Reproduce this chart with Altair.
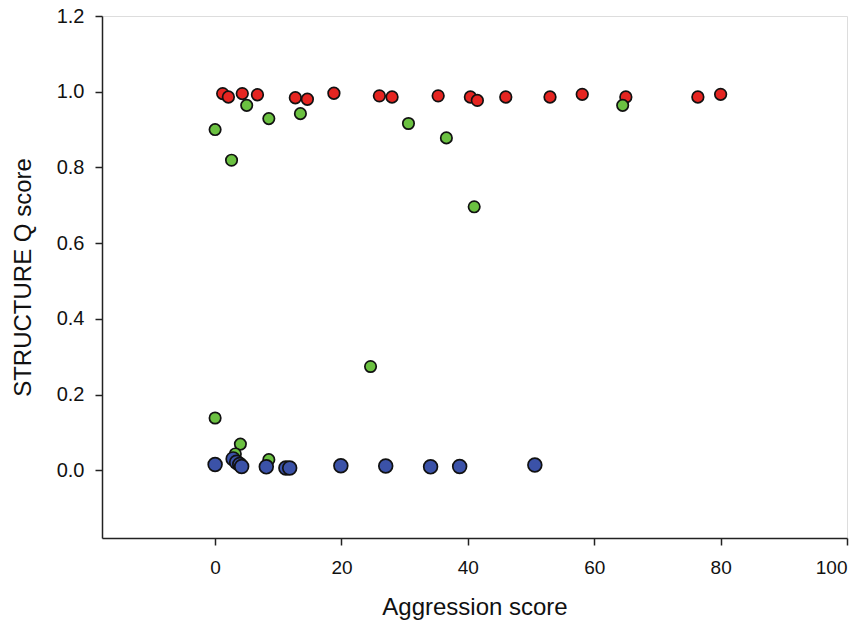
import altair as alt
import pandas as pd

# Red group (Q ~ 1.0)
red_x = [1.2, 2.1, 4.3, 6.7, 12.7, 14.6, 18.8, 26.0, 28.0, 35.3, 40.4, 41.5, 46.0, 53.0, 58.1, 65.0, 76.4, 80.0]
red_q = [0.995, 0.986, 0.995, 0.992, 0.984, 0.980, 0.996, 0.989, 0.986, 0.989, 0.986, 0.977, 0.986, 0.986, 0.993, 0.986, 0.986, 0.993]

# Green group (intermediate)
green_x = [0.0, 2.6, 5.0, 8.5, 13.5, 30.6, 36.6, 64.5, 41.0, 24.6, 0.0, 4.0, 3.2, 8.5]
green_q = [0.900, 0.819, 0.964, 0.929, 0.942, 0.916, 0.878, 0.964, 0.696, 0.274, 0.138, 0.069, 0.043, 0.028]

# Blue group (Q ~ 0.0)
blue_x = [0.0, 2.85, 3.4, 3.9, 4.2, 8.1, 11.2, 11.8, 19.9, 27.0, 34.1, 38.7, 50.6]
blue_q = [0.015, 0.030, 0.021, 0.015, 0.010, 0.009, 0.006, 0.006, 0.012, 0.011, 0.009, 0.010, 0.014]

x_ticks = [0, 20, 40, 60, 80, 100]
y_ticks = [0.0, 0.2, 0.4, 0.6, 0.8, 1.0, 1.2]

red_df = pd.DataFrame({"x": red_x, "q": red_q})
green_df = pd.DataFrame({"x": green_x, "q": green_q})
blue_df = pd.DataFrame({"x": blue_x, "q": blue_q})

FONT = "Liberation Sans"

xscale = alt.Scale(domain=[-17.9, 100], nice=False, zero=False)
yscale = alt.Scale(domain=[-0.179, 1.2], nice=False, zero=False)

xaxis = alt.Axis(
    title="Aggression score", values=x_ticks, format="d", grid=False,
    tickSize=7, tickColor="#222", tickWidth=1.5,
    domainColor="#222", domainWidth=1.5,
    labelFont=FONT, labelFontSize=19, labelColor="#111", labelPadding=13,
    titleFont=FONT, titleFontSize=24, titleFontWeight="normal", titleColor="#111",
    titleY=69, titleBaseline="middle",
)
yaxis = alt.Axis(
    title="STRUCTURE Q score", values=y_ticks, format=".1f", grid=False,
    tickSize=7, tickColor="#222", tickWidth=1.5,
    domainColor="#222", domainWidth=1.5,
    labelFont=FONT, labelFontSize=20, labelColor="#111", labelPadding=11,
    titleFont=FONT, titleFontSize=24, titleFontWeight="normal", titleColor="#111",
    titleX=-79, titleY=261, titleAngle=-90, titleAlign="center", titleBaseline="middle",
)


def layer(df, color, size):
    return alt.Chart(df).mark_circle(
        size=size, color=color, opacity=1, stroke="#111", strokeWidth=1.7
    ).encode(
        x=alt.X("x:Q", scale=xscale, axis=xaxis),
        y=alt.Y("q:Q", scale=yscale, axis=yaxis),
    )


chart = alt.layer(
    layer(red_df, "#e52521", 135),
    layer(green_df, "#6bc141", 130),
    layer(blue_df, "#3b52a8", 190),
).properties(
    width=745, height=522,
    autosize=alt.AutoSizeParams(type="none"),
    padding={"left": 102, "top": 16, "right": 20, "bottom": 93},
).configure_view(
    stroke="#222", strokeWidth=1.5
).configure(background="white")

chart.save("out.html", embed_options={"renderer": "svg", "actions": False})
